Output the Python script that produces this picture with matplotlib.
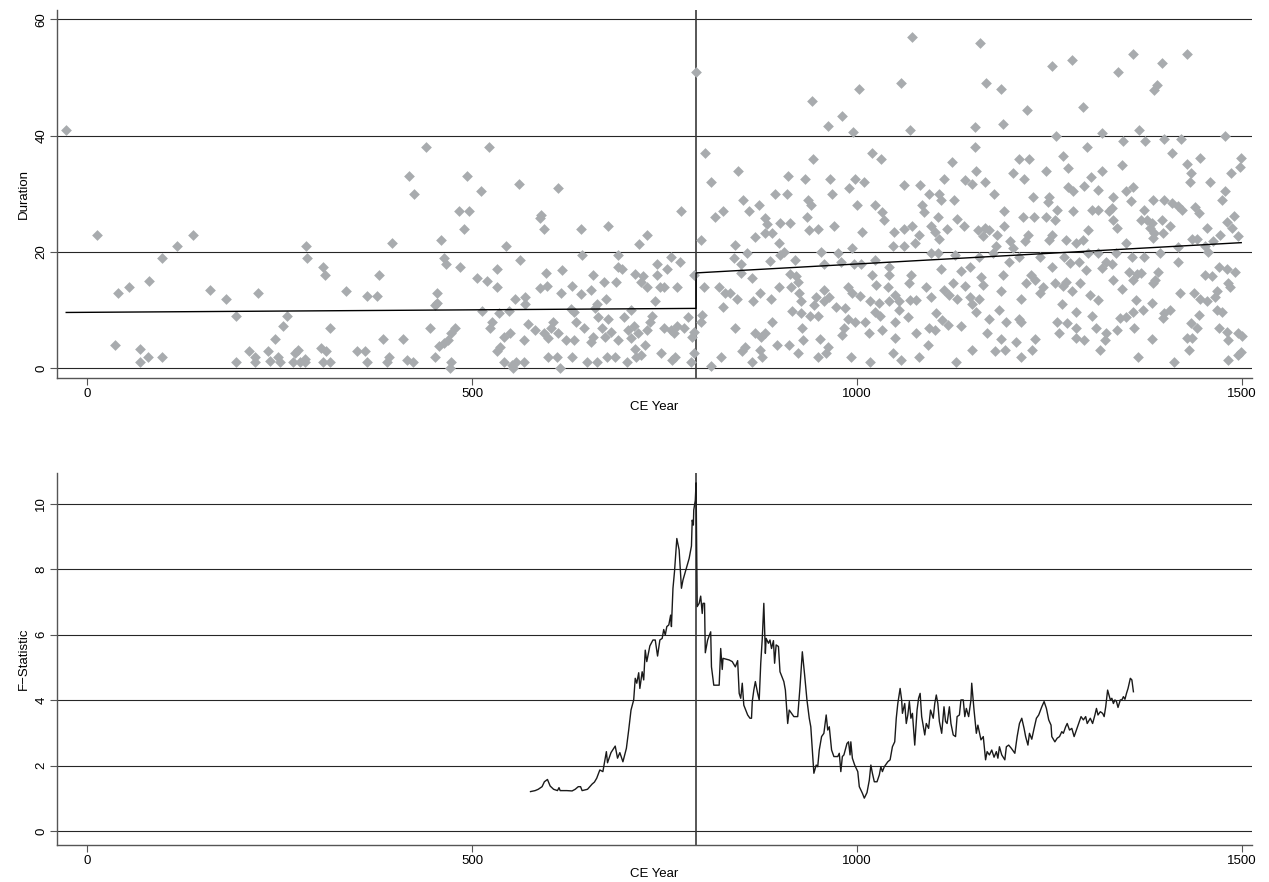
import numpy as np
import matplotlib
matplotlib.use("Agg")
import matplotlib.pyplot as plt

plt.rcParams['font.family'] = ['Liberation Sans', 'DejaVu Sans']

# ---- top panel: duration of each episode by start year
years = [
    -27, 13, 40, 36, 54, 69, 69, 81, 79, 97, 98, 117, 138, 160, 180, 193, 193, 210, 218, 218,
    222, 235, 238, 244, 248, 251, 254, 260, 268, 270, 274, 276, 283, 283, 284, 286, 304, 310, 306, 316,
    307, 309, 316, 337, 350, 361, 363, 363, 376, 379, 384, 389, 392, 396,
    440, 522, 418, 493, 425, 561, 512, 483, 496, 489, 460, 544, 463, 466, 484, 562, 532, 507, 519, 533,
    454, 454, 452, 556, 569, 569, 513, 535, 548, 526, 523, 445, 478, 473, 469, 463, 457, 411, 415, 424,
    452, 473, 472, 536, 532, 542, 549, 568, 573, 582, 542, 552, 557, 567, 553,
    612, 588, 590, 593, 641, 676, 772, 727, 717, 643, 689, 689, 695, 740, 758, 770, 753, 596, 617, 657,
    671, 687, 712, 722, 719, 727, 740, 744, 750, 766, 788, 588, 598, 630, 615, 641, 654, 674, 662, 660,
    738, 628, 632, 707, 734, 780, 593, 599, 605, 602, 612, 622, 633, 635, 645, 654, 657, 664, 669, 676,
    673, 680, 690, 697, 702, 706, 710, 715, 712, 725, 727, 731, 750, 758, 766, 775, 762, 786, 788, 599,
    610, 630, 614, 650, 662, 675, 686, 701, 713, 719, 745, 760, 763, 785, 788, 791,
    803, 810, 845, 943, 911, 933, 894, 909, 852, 873, 860, 815, 826, 936, 940, 935, 880, 883, 900, 913,
    938, 949, 867, 880, 889, 798, 841, 857, 899, 905, 900, 953, 840, 850, 887, 919, 849, 863, 913, 921,
    924, 801, 821, 828, 835, 844, 874, 865, 888, 899, 914, 925, 927, 947, 944, 826, 916, 927, 939, 949,
    799, 797, 842, 890, 929, 868, 875, 881, 930, 952, 855, 851, 874, 896, 912, 824, 810, 864, 877, 924,
    949, 960,
    1072, 1160, 1167, 1057, 1002, 942, 980, 962, 995, 1069, 1153,
    1019, 1031, 1123, 965, 997, 1009, 989, 967, 1061, 1082, 1113, 1093, 1107, 1109, 1126, 1000, 1023, 1032, 1035, 1085,
    1087, 1105, 970, 1007, 1048, 1061, 1072, 1080, 1096, 1101, 1117, 1107, 1047, 1061, 1075, 994, 975, 1096, 1105, 1127,
    979, 996, 1005, 1023, 1041, 957, 1109, 1020, 1042, 1070, 988, 1025, 1040, 1068, 1090, 1113, 957, 964, 994, 1004,
    1017, 1029, 1042, 1049, 1055, 1069, 1077, 1096, 1119, 957, 973, 984, 1023, 1030, 1054, 1103, 1066, 988, 998, 1010,
    1050, 1111, 1118, 983, 1016, 1033, 1077, 1094, 1101, 981, 1049, 1092, 962, 992, 1047, 1080, 1017, 1057, 1129,
    1190, 1259, 1318, 1153, 1211, 1223, 1267, 1299, 1154, 1203, 1217, 1246, 1274, 1304, 1140, 1149, 1166, 1178, 1274, 1281,
    1295, 1313, 1229, 1250, 1248, 1191, 1260, 1281, 1305, 1313, 1130, 1139, 1216, 1230, 1245, 1257, 1191, 1157, 1166, 1172,
    1163, 1182, 1222, 1253, 1300, 1218, 1249, 1271, 1285, 1293, 1199, 1180, 1203, 1177, 1159, 1211, 1238, 1269, 1300, 1313,
    1147, 1197, 1253, 1276, 1288, 1135, 1190, 1298, 1161, 1226, 1125, 1140, 1163, 1220, 1231, 1241, 1238, 1257, 1271, 1267,
    1279, 1289, 1187, 1130, 1147, 1159, 1149, 1213, 1266, 1303, 1313, 1155, 1184, 1285, 1305, 1172, 1194, 1211, 1213, 1260,
    1273, 1135, 1285, 1311, 1169, 1263, 1285, 1187, 1207, 1231, 1295, 1149, 1179, 1192, 1227, 1213, 1315,
    1366, 1345, 1374, 1399, 1421, 1478, 1409, 1446, 1499, 1428, 1344, 1318, 1497, 1434, 1486, 1432, 1458, 1350, 1359, 1478,
    1333, 1356, 1385, 1399, 1409, 1417, 1422, 1474, 1331, 1327, 1373, 1439, 1444, 1332, 1369, 1376, 1383, 1396, 1407, 1490,
    1480, 1338, 1380, 1386, 1398, 1455, 1487, 1385, 1435, 1441, 1472, 1495, 1350, 1417, 1452, 1462, 1337, 1393, 1456, 1357,
    1373, 1417, 1324, 1331, 1318, 1353, 1364, 1369, 1391, 1470, 1480, 1491, 1452, 1461, 1333, 1359, 1385, 1387, 1482, 1344,
    1484, 1420, 1438, 1446, 1455, 1468, 1465, 1362, 1383, 1342, 1350, 1359, 1372, 1399, 1407, 1444, 1468, 1474, 1397, 1360,
    1338, 1324, 1434, 1442, 1470, 1480, 1495, 1500, 1429, 1435, 1482, 1322, 1383, 1431, 1365, 1412, 1482, 1495, 1499,
    1253, 1279, 1359, 1428, 1396, 1339, 1187, 1389, 1386, 1221, 1294,
]
duration = [
    41, 23, 13, 4, 14, 3.3, 1, 15, 2, 2, 19, 21, 23, 13.5, 12, 9, 1, 3, 2, 1,
    13, 3, 1.2, 5, 2, 1, 7.3, 9, 1, 2.7, 3.1, 1, 1.6, 1, 21, 19, 3.5, 3, 1, 1,
    17.5, 16, 7, 13.3, 3, 3, 1, 12.5, 12.5, 16, 5, 1, 2, 21.5,
    38, 38, 33, 33, 30, 31.7, 30.4, 27, 27, 24, 22, 21, 19, 18, 17.5, 18.7, 17, 15.5, 15, 14,
    13, 11.2, 10.8, 12, 12.2, 11, 9.9, 9.5, 9.9, 8, 6.9, 7, 7, 6, 4.9, 4.3, 3.8, 5, 1.5, 1,
    2, 1.1, 0, 3.7, 3, 5.4, 6, 4.9, 7.7, 6.5, 1, 0.6, 1.1, 1, 0,
    31, 25.8, 26.3, 24, 24, 24.5, 27, 23, 21.4, 19.4, 19.5, 17.5, 17, 18, 19.2, 18.2, 17, 16.3, 16.9, 16,
    14.8, 14.9, 16.2, 15.8, 14.9, 14, 16, 14, 14, 14, 16, 13.8, 14.2, 14.2, 13, 12.8, 13.5, 12, 11, 10.3,
    11.5, 10.2, 9.7, 10, 9, 8.9, 6, 5.2, 8, 6.9, 6, 4.9, 4.9, 8, 6.9, 4.6, 5.4, 8.9, 6.9, 8.4,
    5.4, 6.3, 4.9, 8.9, 6.6, 5.2, 7.2, 6, 3.4, 4, 6.5, 8, 7, 6.5, 7.2, 6.9, 6, 5.4, 6.2, 2,
    2, 2, 0, 1, 1, 2, 2, 1.1, 2, 2.3, 2.6, 1.4, 2, 1, 2.6, 51,
    37, 32, 34, 36, 33, 32.6, 30, 30, 29, 28, 27, 26, 27, 29, 28, 26, 25.8, 24.8, 25, 25,
    23.8, 24, 22.5, 23.2, 23.2, 22, 21.2, 19.9, 21.5, 20, 19.5, 20, 19, 18, 18.5, 18.7, 16.3, 15.5, 16.2, 15.9,
    14.9, 14, 14, 13, 13, 11.9, 13, 11.5, 11.9, 14, 14, 13, 11.5, 12.3, 10.9, 10.5, 9.9, 9.5, 9, 9,
    9.2, 8, 6.9, 8, 6.9, 6, 5.3, 6, 4.9, 5, 3.7, 3, 3.1, 4, 4, 2, 0.4, 1, 2, 2.6,
    2, 2.6,
    57, 56, 49, 49, 48, 46, 43.4, 41.7, 40.7, 41, 41.5,
    37, 36, 35.5, 32.5, 32.5, 32, 31, 30, 31.5, 31.5, 32.5, 30, 30, 29, 29, 28, 28, 26.8, 25.5, 28,
    26.8, 26, 24.4, 23.5, 23.5, 24, 24.4, 23, 24.4, 23.5, 24, 22.2, 21, 21, 21.5, 20.6, 19.9, 19.9, 19.9, 19.5,
    18.3, 17.9, 18, 18.6, 17.5, 17.9, 17, 16, 16, 16, 14, 14.3, 14, 14.6, 14, 13.5, 13.5, 12.3, 13, 12.4,
    11.5, 11.2, 11.5, 12.6, 11.5, 11.8, 11.8, 12.3, 12.6, 11.5, 10.6, 10.3, 9.7, 9, 10, 9.5, 8.9, 8.4, 8, 8,
    8, 8.3, 7.5, 6.9, 6.1, 6.5, 6, 6.9, 6.5, 5.7, 5.2, 4, 3.7, 2, 2.6, 2, 1, 1.4, 1,
    42, 40, 40.4, 38, 36, 36, 36.5, 38, 34, 33.5, 32.5, 34, 34.4, 32.9, 32.3, 31.7, 32, 30, 31.2, 30.4,
    31.3, 30.7, 29.5, 29.4, 28.6, 27.1, 27.2, 27.1, 27.2, 27.2, 25.6, 24.4, 26, 26, 26, 25.5, 24.4, 23.7, 24.2, 23.8,
    22.8, 22.9, 22.9, 22.9, 23.7, 21.8, 22, 22, 21.5, 22, 21.8, 21, 20.6, 19.8, 19.1, 19.2, 19.2, 19.1, 19.8, 19.9,
    17.5, 18.2, 17.5, 18.1, 18.2, 16.8, 16, 16.9, 15.7, 16, 14.6, 14.2, 14.3, 14.6, 15.1, 14, 12.9, 14.6, 14.9, 14.2,
    13.3, 14.6, 13.3, 12, 12.3, 12, 11, 12, 11, 12.6, 11.8, 9.6, 10, 9.6, 9, 8.4, 8, 8.4, 8, 8,
    7.8, 7.3, 7, 6.9, 6, 6, 5.2, 5, 4.6, 5, 4.9, 3.1, 3, 3.1, 3.1, 1.9, 3.1,
    41, 39, 39, 39.5, 39.5, 40, 37, 36.1, 36.2, 35.1, 35, 34, 34.6, 33.5, 33.6, 32, 32, 30.5, 31.2, 30.4,
    29.5, 28.8, 29, 28.9, 28.5, 27.9, 27.2, 28.9, 27.5, 27, 27.2, 27.7, 26.7, 25.5, 25.5, 25.5, 24.9, 25.5, 24.5, 26.1,
    25.2, 24.1, 24.1, 23.2, 23.2, 24.2, 24.2, 22.4, 22.2, 22.2, 22.9, 22.8, 21.5, 20.9, 21, 21.9, 19.9, 19.9, 20, 19.2,
    19.2, 18.3, 18.3, 17.9, 17.2, 16.6, 16.2, 16.4, 16.6, 17.5, 17, 16.6, 16, 15.8, 15.2, 15.2, 14.6, 15.2, 14.6, 13.6,
    14, 13, 12.9, 12, 11.5, 13.3, 12.3, 11.8, 11.2, 8.6, 8.9, 9.7, 10, 9.5, 10.1, 9.2, 10, 9.6, 8.6, 6.9,
    6.6, 6, 7.8, 6.9, 6.9, 6.3, 6, 5.6, 5.2, 5.2, 4.9, 4.9, 5, 3.1, 1.9, 1, 1.5, 2.3, 2.8,
    52, 53, 54, 54, 52.5, 51, 48, 48.7, 47.9, 44.4, 45,
]

# break year and the two fitted lines (end points)
break_year = 791
fit_years = [-27, 791, 791, 1499]
fit_values = [9.6, 10.3, 16.4, 21.6]

# ---- bottom panel: F-statistic by candidate break year
f_years = [
    576, 582, 586, 591, 594, 598, 601.5, 606, 611, 613, 614.5, 623, 630, 634, 638, 641, 643, 650, 653, 656,
    659, 662, 666, 670, 674.5, 676, 680.5, 686, 689, 692, 696, 700.5, 703.5, 706.5, 710, 712, 714, 716.5, 718, 721,
    723, 725, 727, 731, 735, 738, 741, 744, 747, 749, 751, 753, 755.6, 758, 759, 761, 763, 766, 769, 772,
    774, 779, 782, 785, 786, 787.5, 788, 790, 791, 792.5, 795, 797, 799, 800, 802, 803, 806, 810, 811, 814,
    821, 823, 825, 826, 834, 838, 842, 845, 847, 849, 851, 853, 858, 861, 863, 864, 866, 868, 871, 873,
    875, 877, 879, 881, 882, 885, 887, 889, 891.5, 893, 895, 898, 900, 905, 907, 910, 912, 915, 918, 923,
    926, 929, 932, 935, 938, 940, 944, 947, 949, 951, 954, 957, 960, 962, 964, 967, 970, 975, 977, 979,
    981, 983, 987, 989, 991, 992, 994, 997, 1001, 1003, 1005, 1007, 1009.5, 1013, 1016, 1018, 1020, 1022.5, 1026, 1029,
    1031, 1033, 1035.5, 1040, 1043, 1046, 1049, 1051, 1053, 1056, 1058, 1059, 1062, 1064, 1066, 1068, 1070, 1072, 1075, 1078,
    1080, 1082, 1084, 1088, 1090, 1093, 1095.5, 1099, 1101, 1103, 1105, 1107, 1110, 1113, 1115, 1117, 1120, 1122, 1125, 1128,
    1130, 1133, 1135, 1138, 1140, 1142, 1145, 1148, 1149, 1152, 1155, 1157, 1161, 1164, 1167, 1169, 1172, 1175, 1178, 1181,
    1183, 1185, 1188, 1192, 1194, 1197, 1200.5, 1205, 1208, 1211, 1214, 1217, 1219, 1222, 1224, 1227, 1230, 1233, 1236, 1240,
    1243, 1246, 1249, 1252, 1253, 1257, 1260, 1263, 1266, 1268, 1271, 1273, 1276, 1279, 1282, 1285, 1288, 1291, 1294, 1297,
    1299, 1303, 1306, 1309, 1311, 1313, 1316, 1319, 1321, 1323, 1325.5, 1329, 1331, 1333, 1335, 1337, 1339, 1342, 1344, 1346,
    1348, 1350, 1352, 1355, 1357, 1359,
]
f_stat = [
    1.21, 1.24, 1.28, 1.36, 1.51, 1.58, 1.38, 1.28, 1.24, 1.33, 1.24, 1.24, 1.23, 1.28, 1.36, 1.36, 1.24, 1.28, 1.36, 1.44,
    1.50, 1.62, 1.87, 1.82, 2.43, 2.09, 2.40, 2.60, 2.23, 2.40, 2.12, 2.53, 3.09, 3.70, 4.01, 4.67, 4.52, 4.84, 4.36, 4.87,
    4.62, 5.53, 5.18, 5.66, 5.84, 5.84, 5.35, 5.84, 5.89, 6.16, 5.99, 6.25, 6.30, 6.60, 6.25, 7.42, 7.93, 8.94, 8.59, 7.42,
    7.67, 8.08, 8.33, 8.71, 9.50, 9.35, 9.81, 10.11, 10.64, 6.86, 6.96, 7.18, 6.65, 6.96, 6.96, 5.45, 5.84, 6.09, 5.02, 4.46,
    4.46, 5.58, 4.94, 5.28, 5.23, 5.18, 5.02, 5.21, 4.21, 4.06, 4.52, 3.85, 3.55, 3.45, 3.45, 3.96, 4.31, 4.57, 4.21, 4.01,
    5.13, 5.89, 6.96, 5.43, 5.89, 5.74, 5.84, 5.58, 5.82, 5.13, 5.69, 5.64, 4.87, 4.57, 4.31, 3.29, 3.70, 3.60, 3.50, 3.50,
    4.41, 5.48, 4.77, 4.01, 3.45, 3.19, 1.77, 2.02, 1.97, 2.48, 2.89, 2.99, 3.55, 3.09, 3.19, 2.48, 2.28, 2.28, 2.38, 1.82,
    2.28, 2.33, 2.68, 2.73, 2.33, 2.73, 2.23, 2.02, 1.82, 1.36, 1.26, 1.16, 1.01, 1.18, 1.56, 2.02, 1.77, 1.51, 1.51, 1.72,
    1.97, 1.82, 1.97, 2.12, 2.18, 2.58, 2.73, 3.45, 3.90, 4.36, 4.01, 3.60, 3.90, 3.29, 3.55, 3.96, 3.45, 3.60, 2.63, 3.70,
    4.06, 4.21, 3.50, 2.94, 3.29, 3.14, 3.70, 3.45, 3.90, 4.16, 3.90, 3.35, 2.99, 3.80, 3.35, 3.29, 3.80, 3.29, 2.94, 2.89,
    3.50, 3.55, 4.01, 4.01, 3.50, 3.75, 3.50, 4.01, 4.52, 3.70, 2.99, 3.24, 2.79, 2.89, 2.18, 2.43, 2.33, 2.48, 2.26, 2.43,
    2.23, 2.58, 2.33, 2.18, 2.58, 2.63, 2.53, 2.38, 2.89, 3.29, 3.45, 3.14, 2.89, 2.63, 2.99, 2.81, 3.14, 3.45, 3.55, 3.80,
    3.96, 3.75, 3.40, 3.24, 2.89, 2.73, 2.84, 2.89, 3.04, 2.99, 3.19, 3.29, 3.09, 3.14, 2.89, 3.09, 3.29, 3.50, 3.40, 3.50,
    3.29, 3.45, 3.29, 3.55, 3.75, 3.55, 3.65, 3.60, 3.50, 3.80, 4.31, 4.01, 4.06, 3.90, 4.01, 3.96, 3.78, 4.01, 4.01, 4.11,
    4.03, 4.21, 4.36, 4.67, 4.62, 4.26,
]

x_ticks = [0, 500, 1000, 1500]

fig = plt.figure(figsize=(12.69, 8.82), dpi=100)
ax1 = fig.add_axes([0.0449, 0.5714, 0.9417, 0.4173])
ax2 = fig.add_axes([0.0449, 0.0420, 0.9417, 0.4217])

grid_c = '#262626'
axis_c = '#555555'


def stata_axes(ax, yticks):
    for s in ['top', 'right']:
        ax.spines[s].set_visible(False)
    for s in ['left', 'bottom']:
        ax.spines[s].set_color(axis_c)
        ax.spines[s].set_linewidth(1.0)
    ax.set_xticks(x_ticks)
    ax.set_yticks(yticks)
    ax.tick_params(direction='out', length=5, width=0.8, color=axis_c, labelsize=9.5, pad=2)
    for lab in ax.get_yticklabels():
        lab.set_rotation(90)
        lab.set_va('center')
    for y in yticks:
        ax.axhline(y, color=grid_c, lw=0.8, zorder=1)
    ax.axvline(break_year, color='#3a3a3a', lw=1.2, zorder=2)
    ax.set_xlim(-39, 1513)
    ax.set_xlabel('CE Year', fontsize=9.5, labelpad=1)


# top panel
ax1.scatter(years, duration, marker='D', s=30, color='#a8abae', linewidths=0, zorder=3)
ax1.plot(fit_years, fit_values, color='black', lw=1.0, zorder=4)
ax1.set_ylim(-1.67, 61.6)
stata_axes(ax1, [0, 20, 40, 60])
ax1.set_ylabel('Duration', fontsize=9.5, labelpad=4)

# bottom panel
ax2.plot(f_years, f_stat, color='#1a1a1a', lw=1.0, zorder=4)
ax2.set_ylim(-0.42, 10.94)
stata_axes(ax2, [0, 2, 4, 6, 8, 10])
ax2.set_ylabel('F\u2212Statistic', fontsize=9.5, labelpad=4)

fig.savefig('out.png', dpi=100)
